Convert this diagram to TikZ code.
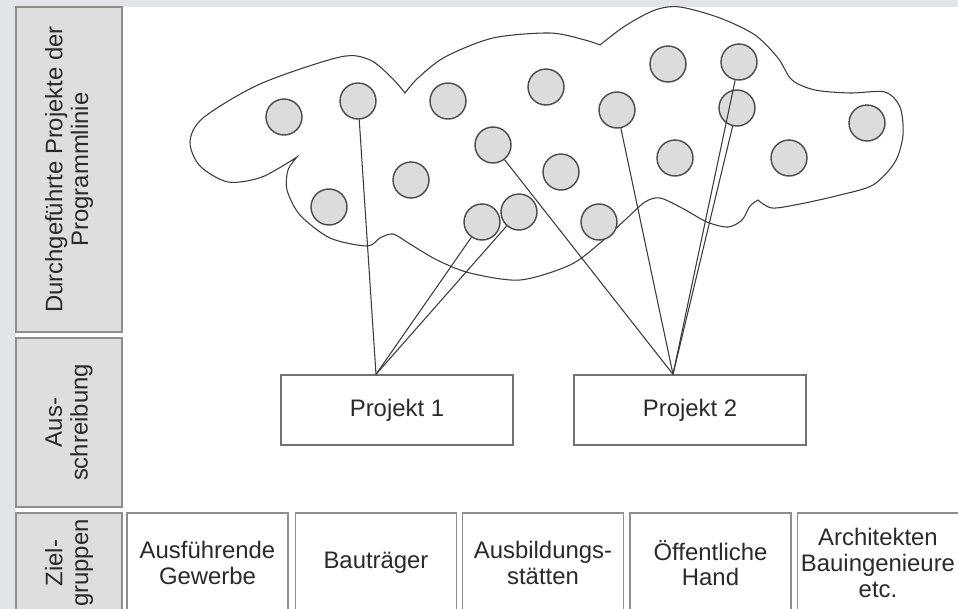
\documentclass[tikz,border=0pt]{standalone}
\usepackage{fontspec}
\setmainfont{Liberation Sans}

\definecolor{randgrau}{HTML}{E1E5E9}
\definecolor{kopffuell}{HTML}{DEDEDE}
\definecolor{kopfrand}{HTML}{8E8E8E}
\definecolor{kreisfuell}{HTML}{DCDCDC}
\definecolor{kreisrand}{HTML}{4A4A4A}
\definecolor{linie}{HTML}{3A3A3A}
\definecolor{schrift}{HTML}{2A2A2A}

\begin{document}
\begin{tikzpicture}[x=0.02cm,y=-0.02cm,
    font=\fontsize{13.6}{14.6}\selectfont, text=schrift]

      \clip (0,0) rectangle (958,609);
      \fill[randgrau] (0,0) rectangle (958,609);
      \fill[white] (16,7) rectangle (958,609);

      % Zeilenkoepfe links
      \begin{scope}[every node/.style={draw=kopfrand, fill=kopffuell, line width=0.8pt,
          rotate=90, align=center, inner sep=0pt, minimum height=2.12cm}]
        \node[minimum width=6.5cm]  (k1) at (69,169.5) {Durchgeführte Projekte der\\Programmlinie};
        \node[minimum width=3.38cm] (k2) at (69,422.5) {Aus-\\schreibung};
        \node[minimum width=2cm]    (k3) at (69,563)   {Ziel-\\gruppen};
      \end{scope}

      % Wolke
      \draw[linie, line width=0.6pt]
        plot[smooth] coordinates {(297,157) (262,177) (228,182) (200,166) (190,142)
          (203,118) (260,84) (340,57) (370,60) (392,78) (405,93)}
        -- plot[smooth] coordinates {(405,93) (418,78) (445,57) (493,38) (550,33)
          (585,40) (600,45)}
        -- plot[smooth] coordinates {(600,45) (625,26) (655,10) (680,7) (720,18)
          (755,35) (778,58) (792,80) (815,90) (850,93) (885,92) (900,107) (903,135)
          (895,162) (873,185) (840,195) (800,204) (772,208) (758,200)}
        -- plot[smooth] coordinates {(758,200) (750,206) (742,220) (728,227) (707,222)
          (682,208) (660,198) (645,202) (625,220) (600,243) (570,265) (520,280)
          (470,273) (437,260) (410,244) (393,234) (380,238) (367,246) (330,238)
          (300,215) (287,190) (288,170) (297,157)}
        -- cycle;

      % Projekte der Programmlinie
      \begin{scope}[every node/.style={circle, draw=kreisrand, fill=kreisfuell,
          line width=0.8pt, minimum size=0.72cm, inner sep=0pt}]
        \node (c1)  at (284,117) {};
        \node (c2)  at (358,101) {};
        \node (c3)  at (448,101) {};
        \node (c4)  at (546,87)  {};
        \node (c5)  at (617,110) {};
        \node (c6)  at (668,64)  {};
        \node (c7)  at (739,62)  {};
        \node (c8)  at (737,108) {};
        \node (c9)  at (867,123) {};
        \node (c10) at (493,145) {};
        \node (c11) at (411,180) {};
        \node (c12) at (561,172) {};
        \node (c13) at (675,158) {};
        \node (c14) at (789,158) {};
        \node (c15) at (329,207) {};
        \node (c16) at (482,222) {};
        \node (c17) at (519,212) {};
        \node (c18) at (599,222) {};
      \end{scope}

      % Ausschreibung
      \begin{scope}[every node/.style={draw=kopfrand!80!black, fill=white, line width=0.8pt,
          minimum width=4.64cm, minimum height=1.4cm, inner sep=0pt}]
        \node (p1) at (397,410) {Projekt 1};
        \node (p2) at (690,410) {Projekt 2};
      \end{scope}
      \coordinate (t1) at ([xshift=-0.42cm]p1.north);
      \coordinate (t2) at ([xshift=-0.34cm]p2.north);

      \begin{scope}[every edge/.style={draw=linie, line width=0.6pt}]
        \path (c2)  edge (t1);
        \path (c16) edge (t1);
        \path (c17) edge (t1);
        \path (c10) edge (t2);
        \path (c5)  edge (t2);
        \path (c7)  edge (t2);
        \path (c8)  edge (t2);
      \end{scope}

      % Zielgruppen
      \begin{scope}[every node/.style={draw=kopfrand, fill=white, line width=1pt,
          minimum width=3.22cm, minimum height=2cm, align=center, inner sep=0pt}]
        \node (z1) at (207.5,563) {Ausführende\\Gewerbe};
        \node (z2) at (376,563)   {Bauträger};
        \node (z3) at (543,563)   {Ausbildungs-\\stätten};
        \node (z4) at (710.5,563) {Öffentliche\\Hand};
        \node (z5) at (878,563)   {Architekten\\Bauingenieure\\etc.};
      \end{scope}

    \end{tikzpicture}
\end{document}
